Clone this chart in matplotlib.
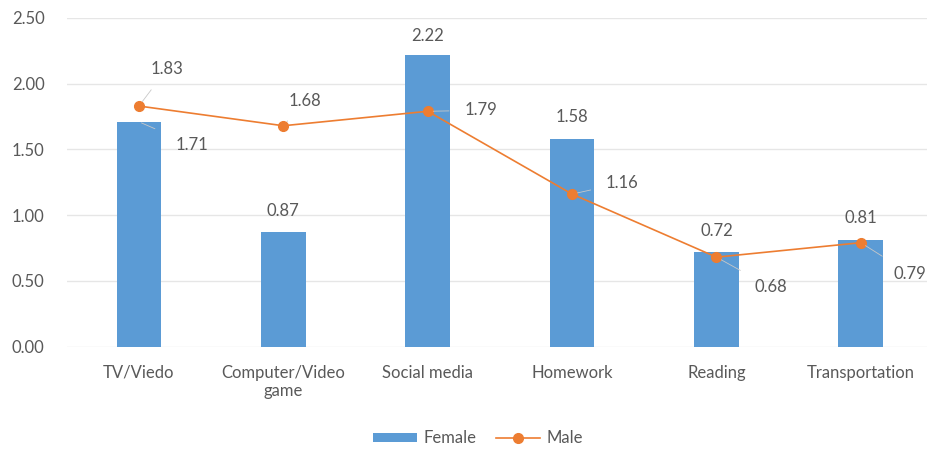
import numpy as np
import matplotlib

matplotlib.use('Agg')
import matplotlib.pyplot as plt

plt.rcParams['font.family'] = ['Lato', 'DejaVu Sans']

categories = ['TV/Viedo', 'Computer/Video\ngame', 'Social media', 'Homework', 'Reading', 'Transportation']
female = [1.71, 0.87, 2.22, 1.58, 0.72, 0.81]
male = [1.83, 1.68, 1.79, 1.16, 0.68, 0.79]

# label offsets in pixels (dx, dy) from the point / bar top
female_off = [(53, -23), (0, 21), (0, 19), (0, 22), (0, 21), (0, 22)]
male_off = [(28, 37), (22, 25), (53, 1), (50, 11), (54, -30), (49, -31)]

grey = '#595959'
fig, ax = plt.subplots(figsize=(9.27, 4.5), dpi=100)
# the plot area runs a little past the right edge, as in the original
fig.subplots_adjust(left=0.072, right=1.0065, top=0.96, bottom=0.23)

x = np.arange(len(categories))
bars = ax.bar(x, female, width=0.31, color='#5B9BD5', label='Female', zorder=2)
line, = ax.plot(x, male, color='#ED7D31', marker='o', markersize=7, linewidth=1.2, label='Male', zorder=3)

for i in range(len(x)):
    dx, dy = female_off[i]
    ax.annotate(f'{female[i]:.2f}', (x[i], female[i]), xytext=(dx, dy), textcoords='offset pixels',
                ha='center', va='center', fontsize=12, color=grey,
                arrowprops=dict(arrowstyle='-', color='#c8c8c8', lw=0.6, shrinkA=14, shrinkB=2) if dx else None)
    dx, dy = male_off[i]
    ax.annotate(f'{male[i]:.2f}', (x[i], male[i]), xytext=(dx, dy), textcoords='offset pixels',
                ha='center', va='center', fontsize=12, color=grey,
                arrowprops=dict(arrowstyle='-', color='#c8c8c8', lw=0.6, shrinkA=9, shrinkB=4))

ax.set_xlim(-0.5, len(categories) - 0.5)
ax.set_ylim(0, 2.5)
ax.set_yticks(np.arange(0, 2.51, 0.5))
ax.set_yticklabels([f'{v:.2f}' for v in np.arange(0, 2.51, 0.5)])
ax.set_xticks(x)
ax.set_xticklabels(categories)
ax.tick_params(axis='both', length=0, labelsize=12, labelcolor=grey)
ax.tick_params(axis='y', pad=16)
ax.tick_params(axis='x', pad=13)
ax.grid(axis='y', color='#e6e6e6', linewidth=1, zorder=0)
for s in ax.spines.values():
    s.set_visible(False)

ax.legend([bars, line], ['Female', 'Male'], loc='center', bbox_to_anchor=(0.475, -0.28), ncol=2,
          frameon=False, fontsize=12, labelcolor=grey, handlelength=2.6, handleheight=0.5,
          columnspacing=1.2, handletextpad=0.4)

plt.savefig('out.png', dpi=100)
